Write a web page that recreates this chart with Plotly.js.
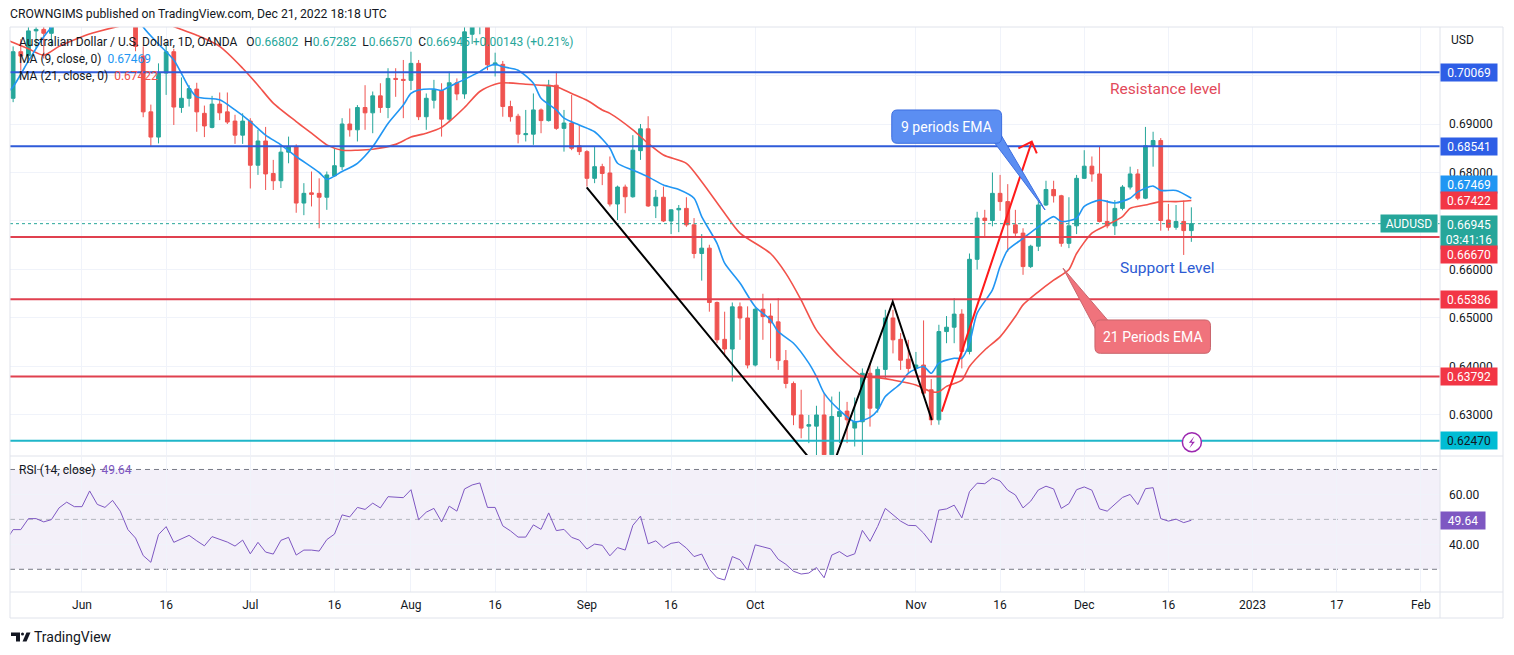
<!DOCTYPE html>
<html>
<head>
<meta charset="utf-8">
<script src="https://cdn.plot.ly/plotly-3.0.1.min.js"></script>
<style>
    html, body { margin: 0; padding: 0; background: #ffffff; }
    #chart { width: 1514px; height: 655px; }
</style>
</head>
<body>
<div id="chart"></div>
<script>
// AUDUSD 1D (OANDA), one bar per weekday starting 2022-05-18
const firstBar = '2022-05-18';

const open = [
    0.7030, 0.6953, 0.7049, 0.7041, 0.7092, 0.7095, 0.7087, 0.7120, 0.7160, 0.7175,
    0.7170, 0.7165, 0.7235, 0.7200, 0.7190, 0.7210, 0.7185, 0.7130, 0.7040, 0.6925,
    0.6873, 0.7005, 0.7049, 0.6934, 0.6953, 0.6972, 0.6922, 0.6893, 0.6941, 0.6925,
    0.6906, 0.6877, 0.6906, 0.6815, 0.6865, 0.6798, 0.6783, 0.6842, 0.6853, 0.6737,
    0.6758, 0.6757, 0.6749, 0.6793, 0.6812, 0.6900, 0.6888, 0.6934, 0.6923, 0.6958,
    0.6934, 0.6994, 0.6992, 0.6990, 0.7025, 0.6915, 0.6949, 0.6969, 0.6910, 0.6985,
    0.6962, 0.7085, 0.7102, 0.7115, 0.7022, 0.7023, 0.6936, 0.6916, 0.6878, 0.6879,
    0.6929, 0.6907, 0.6980, 0.6891, 0.6902, 0.6855, 0.6843, 0.6788, 0.6812, 0.6799,
    0.6735, 0.6770, 0.6750, 0.6845, 0.6890, 0.6731, 0.6749, 0.6700, 0.6723, 0.6726,
    0.6692, 0.6633, 0.6644, 0.6532, 0.6456, 0.6436, 0.6523, 0.6500, 0.6403, 0.6518,
    0.6504, 0.6492, 0.6412, 0.6365, 0.6300, 0.6277, 0.6277, 0.6300, 0.6218, 0.6297,
    0.6308, 0.6273, 0.6286, 0.6386, 0.6314, 0.6394, 0.6500, 0.6456, 0.6415, 0.6396,
    0.6403, 0.6352, 0.6290, 0.6472, 0.6481, 0.6508, 0.6431, 0.6621, 0.6706, 0.6701,
    0.6757, 0.6740, 0.6692, 0.6675, 0.6606, 0.6648, 0.6733, 0.6765, 0.6752, 0.6654,
    0.6690, 0.6788, 0.6813, 0.6797, 0.6699, 0.6690, 0.6726, 0.6770, 0.6797, 0.6747,
    0.6855, 0.6866, 0.6702, 0.6687, 0.6699, 0.66802
];
const high = [
    0.7068, 0.7060, 0.7075, 0.7100, 0.7126, 0.7107, 0.7130, 0.7170, 0.7190, 0.7200,
    0.7180, 0.7240, 0.7250, 0.7220, 0.7215, 0.7280, 0.7240, 0.7140, 0.7060, 0.6940,
    0.7025, 0.7069, 0.7055, 0.6996, 0.6980, 0.6985, 0.6938, 0.6958, 0.6965, 0.6965,
    0.6919, 0.6922, 0.6912, 0.6888, 0.6894, 0.6826, 0.6853, 0.6874, 0.6858, 0.6778,
    0.6802, 0.6788, 0.6802, 0.6850, 0.6912, 0.6932, 0.6939, 0.6980, 0.6967, 0.6984,
    0.7015, 0.7015, 0.7032, 0.7049, 0.7032, 0.6963, 0.6991, 0.6984, 0.7008, 0.6994,
    0.7110, 0.7137, 0.7140, 0.7125, 0.7047, 0.7030, 0.6948, 0.6921, 0.6929, 0.6963,
    0.6932, 0.6991, 0.7008, 0.6929, 0.6960, 0.6898, 0.6846, 0.6853, 0.6818, 0.6833,
    0.6773, 0.6775, 0.6877, 0.6900, 0.6916, 0.6764, 0.6771, 0.6724, 0.6733, 0.6749,
    0.6706, 0.6673, 0.6651, 0.6534, 0.6513, 0.6532, 0.6532, 0.6524, 0.6522, 0.6550,
    0.6530, 0.6541, 0.6434, 0.6369, 0.6352, 0.6300, 0.6319, 0.6345, 0.6338, 0.6348,
    0.6327, 0.6336, 0.6396, 0.6407, 0.6400, 0.6517, 0.6517, 0.6469, 0.6455, 0.6430,
    0.6495, 0.6374, 0.6486, 0.6504, 0.6541, 0.6518, 0.6633, 0.6719, 0.6723, 0.6800,
    0.6795, 0.6776, 0.6723, 0.6685, 0.6651, 0.6743, 0.6783, 0.6783, 0.6754, 0.6749,
    0.6795, 0.6846, 0.6833, 0.6853, 0.6743, 0.6743, 0.6774, 0.6812, 0.6807, 0.6894,
    0.6884, 0.6871, 0.6735, 0.6733, 0.6742, 0.67282
];
const low = [
    0.6958, 0.6945, 0.7010, 0.7034, 0.7055, 0.7035, 0.7060, 0.7100, 0.7150, 0.7135,
    0.7120, 0.7150, 0.7190, 0.7175, 0.7160, 0.7180, 0.7120, 0.7050, 0.6914, 0.6853,
    0.6860, 0.6960, 0.6898, 0.6923, 0.6936, 0.6884, 0.6873, 0.6891, 0.6908, 0.6900,
    0.6859, 0.6859, 0.6767, 0.6795, 0.6764, 0.6764, 0.6768, 0.6819, 0.6717, 0.6712,
    0.6730, 0.6685, 0.6723, 0.6791, 0.6805, 0.6874, 0.6864, 0.6888, 0.6881, 0.6923,
    0.6912, 0.6956, 0.6912, 0.6970, 0.6908, 0.6888, 0.6932, 0.6874, 0.6904, 0.6949,
    0.6952, 0.7065, 0.7085, 0.7011, 0.6998, 0.6915, 0.6905, 0.6860, 0.6864, 0.6857,
    0.6881, 0.6905, 0.6888, 0.6843, 0.6846, 0.6836, 0.6771, 0.6778, 0.6774, 0.6730,
    0.6702, 0.6716, 0.6748, 0.6826, 0.6729, 0.6706, 0.6698, 0.6673, 0.6677, 0.6688,
    0.6623, 0.6577, 0.6513, 0.6448, 0.6421, 0.6369, 0.6455, 0.6396, 0.6400, 0.6455,
    0.6417, 0.6393, 0.6355, 0.6279, 0.6252, 0.6242, 0.6170, 0.6200, 0.6205, 0.6242,
    0.6242, 0.6235, 0.6170, 0.6276, 0.6305, 0.6376, 0.6427, 0.6393, 0.6386, 0.6386,
    0.6341, 0.6279, 0.6280, 0.6448, 0.6448, 0.6396, 0.6425, 0.6600, 0.6667, 0.6689,
    0.6721, 0.6637, 0.6665, 0.6589, 0.6603, 0.6638, 0.6731, 0.6738, 0.6647, 0.6644,
    0.6673, 0.6787, 0.6781, 0.6697, 0.6685, 0.6671, 0.6722, 0.6765, 0.6743, 0.6745,
    0.6812, 0.6680, 0.6680, 0.6682, 0.6630, 0.66570
];
const close = [
    0.6962, 0.7049, 0.7040, 0.7092, 0.7095, 0.7087, 0.7120, 0.7160, 0.7175, 0.7170,
    0.7165, 0.7235, 0.7200, 0.7190, 0.7210, 0.7185, 0.7130, 0.7060, 0.6925, 0.6873,
    0.7005, 0.7049, 0.6935, 0.6953, 0.6973, 0.6925, 0.6896, 0.6941, 0.6923, 0.6904,
    0.6877, 0.6906, 0.6815, 0.6865, 0.6797, 0.6783, 0.6842, 0.6853, 0.6737, 0.6757,
    0.6755, 0.6749, 0.6795, 0.6814, 0.6900, 0.6888, 0.6934, 0.6923, 0.6958, 0.6934,
    0.6994, 0.6992, 0.6990, 0.7025, 0.6915, 0.6953, 0.6970, 0.6910, 0.6985, 0.6962,
    0.7090, 0.7102, 0.7115, 0.7022, 0.7026, 0.6936, 0.6915, 0.6879, 0.6880, 0.6929,
    0.6907, 0.6980, 0.6891, 0.6902, 0.6850, 0.6843, 0.6788, 0.6812, 0.6798, 0.6735,
    0.6770, 0.6750, 0.6846, 0.6890, 0.6731, 0.6749, 0.6700, 0.6723, 0.6726, 0.6692,
    0.6633, 0.6644, 0.6532, 0.6455, 0.6436, 0.6523, 0.6500, 0.6403, 0.6518, 0.6503,
    0.6490, 0.6412, 0.6365, 0.6300, 0.6273, 0.6280, 0.6300, 0.6218, 0.6297, 0.6307,
    0.6290, 0.6286, 0.6386, 0.6314, 0.6394, 0.6500, 0.6455, 0.6413, 0.6396, 0.6403,
    0.6345, 0.6290, 0.6472, 0.6481, 0.6508, 0.6431, 0.6621, 0.6706, 0.6701, 0.6757,
    0.6740, 0.6692, 0.6675, 0.6606, 0.6648, 0.6733, 0.6765, 0.6752, 0.6654, 0.6690,
    0.6788, 0.6813, 0.6797, 0.6699, 0.6690, 0.6726, 0.6770, 0.6797, 0.6747, 0.6855,
    0.6866, 0.6701, 0.6687, 0.6699, 0.66802, 0.66945
];

const rsi = [
    41.2, 45.9, 45.9, 50.3, 50.3, 49.0, 49.9, 54.6, 56.9, 55.1,
    55.1, 61.4, 56.0, 54.8, 57.6, 53.3, 45.9, 42.5, 35.5, 32.8,
    43.9, 47.1, 40.8, 42.3, 43.6, 41.4, 39.4, 43.1, 42.1, 40.9,
    39.3, 41.7, 36.2, 40.8, 36.9, 36.1, 41.6, 42.8, 35.7, 37.7,
    37.7, 37.3, 41.9, 44.1, 51.8, 51.0, 54.8, 54.0, 56.5, 54.6,
    59.1, 58.8, 58.7, 61.9, 49.9, 52.9, 54.4, 49.0, 55.3, 53.3,
    62.2, 63.8, 64.6, 54.8, 54.8, 47.4, 45.4, 42.9, 42.9, 47.8,
    46.0, 52.6, 45.5, 46.0, 42.8, 41.7, 38.1, 40.1, 39.6, 35.4,
    38.7, 37.7, 47.6, 51.3, 40.2, 41.4, 38.6, 40.4, 40.9, 38.5,
    35.1, 36.1, 30.0, 26.6, 25.7, 35.1, 33.8, 29.7, 39.8, 39.0,
    38.2, 34.0, 32.0, 29.2, 28.1, 28.5, 30.7, 26.6, 35.7, 37.1,
    35.1, 36.2, 45.6, 41.2, 47.2, 54.4, 52.0, 49.3, 47.6, 47.5,
    44.5, 40.6, 53.7, 54.2, 55.7, 50.6, 61.1, 64.5, 64.3, 66.6,
    65.4, 61.7, 59.8, 54.6, 57.3, 61.8, 63.3, 62.2, 54.4, 56.3,
    61.9, 63.0, 61.7, 54.2, 53.3, 56.0, 58.8, 60.0, 55.9, 62.3,
    62.7, 50.3, 49.3, 50.1, 48.7, 49.64
];

// moving averages, sampled along the drawn lines (bar number -> value)
const ma9Bars = [0, 1, 3, 5, 7, 10, 13, 16, 18, 20, 22, 24, 25, 28, 30, 32, 34, 36, 38, 41,
    42, 44, 46, 48, 50, 52, 53, 54, 56, 57, 58, 60, 62, 63, 64, 65, 67, 69, 70, 72,
    73, 75, 77, 79, 80, 82, 84, 86, 88, 90, 91, 93, 94, 96, 98, 100, 101, 103, 105, 106,
    107, 109, 111, 113, 114, 115, 117, 118, 120, 121, 122, 124, 125, 126, 127, 129, 130, 131, 133, 135,
    137, 138, 140, 141, 143, 145, 147, 148, 150, 151, 153, 155];
const ma9Vals = [0.6962, 0.6977, 0.7030, 0.7080, 0.7115, 0.7150, 0.7175, 0.7160, 0.7100, 0.7065,
    0.7032, 0.6975, 0.6956, 0.6950, 0.6929, 0.6905, 0.6877, 0.6857, 0.6833, 0.6800,
    0.6786, 0.6802, 0.6819, 0.6853, 0.6901, 0.6939, 0.6963, 0.6970, 0.6972, 0.6969,
    0.6977, 0.6992, 0.7008, 0.7018, 0.7023, 0.7018, 0.7011, 0.6984, 0.6953, 0.6929,
    0.6912, 0.6898, 0.6884, 0.6850, 0.6819, 0.6805, 0.6791, 0.6774, 0.6765, 0.6747,
    0.6709, 0.6654, 0.6613, 0.6572, 0.6523, 0.6496, 0.6472, 0.6448, 0.6407, 0.6379,
    0.6345, 0.6310, 0.6286, 0.6295, 0.6310, 0.6338, 0.6365, 0.6386, 0.6400, 0.6386,
    0.6407, 0.6417, 0.6417, 0.6448, 0.6510, 0.6558, 0.6606, 0.6640, 0.6664, 0.6688,
    0.6709, 0.6699, 0.6706, 0.6730, 0.6743, 0.6737, 0.6747, 0.6760, 0.6772, 0.6763,
    0.6763, 0.67469];
const ma21Bars = [0, 1, 3, 5, 7, 10, 12, 15, 18, 21, 23, 25, 28, 31, 33, 35, 38, 40, 42, 44,
    46, 48, 51, 53, 55, 57, 58, 60, 62, 64, 65, 68, 70, 72, 74, 76, 78, 79, 82, 84,
    86, 89, 91, 94, 96, 100, 102, 104, 106, 109, 112, 114, 116, 119, 121, 122, 123, 125, 126, 128,
    130, 132, 133, 135, 137, 139, 140, 142, 144, 146, 147, 149, 151, 153, 155];
const ma21Vals = [0.7075, 0.7068, 0.7055, 0.7042, 0.7060, 0.7080, 0.7090, 0.7102, 0.7108, 0.7106,
    0.7095, 0.7083, 0.7060, 0.7015, 0.6980, 0.6943, 0.6905, 0.6881, 0.6857, 0.6846,
    0.6846, 0.6848, 0.6858, 0.6873, 0.6881, 0.6893, 0.6905, 0.6934, 0.6967, 0.6982,
    0.6985, 0.6982, 0.6980, 0.6977, 0.6963, 0.6949, 0.6929, 0.6922, 0.6888, 0.6860,
    0.6836, 0.6819, 0.6781, 0.6716, 0.6675, 0.6633, 0.6592, 0.6537, 0.6475, 0.6420,
    0.6380, 0.6377, 0.6372, 0.6362, 0.6348, 0.6348, 0.6359, 0.6372, 0.6400, 0.6434,
    0.6461, 0.6503, 0.6527, 0.6554, 0.6578, 0.6600, 0.6633, 0.6675, 0.6692, 0.6709,
    0.6726, 0.6733, 0.6740, 0.6740, 0.67422];

// horizontal levels from the drawing
const blueLevels = [0.70069, 0.68541];
const redLevels = [0.66670, 0.65386, 0.63792];
const cyanLevel = 0.62470;
const lastPrice = 0.66945;

const priceTicks = [0.63, 0.64, 0.65, 0.66, 0.67, 0.68, 0.69, 0.70, 0.71];
const priceTickText = ['0.63000', '0.64000', '0.65000', '0.66000', '', '0.68000', '0.69000', '', ''];
const timeTicks = ['2022-06-01', '2022-06-16', '2022-07-01', '2022-07-18', '2022-08-01', '2022-08-16',
    '2022-09-01', '2022-09-16', '2022-10-03', '2022-11-01', '2022-11-16', '2022-12-01',
    '2022-12-16', '2023-01-02', '2023-01-17', '2023-02-01'];
const timeTickText = ['Jun', '16', 'Jul', '16', 'Aug', '16', 'Sep', '16', 'Oct', 'Nov', '16', 'Dec',
    '16', '2023', '17', 'Feb'];

// weekday calendar
function weekdays(start, n) {
    const out = [];
    const d = new Date(start + 'T00:00:00Z');
    while (out.length < n) {
        const wd = d.getUTCDay();
        if (wd !== 0 && wd !== 6) out.push(d.toISOString().slice(0, 10));
        d.setUTCDate(d.getUTCDate() + 1);
    }
    return out;
}
const calendar = weekdays(firstBar, 200);
const dates = calendar.slice(0, close.length);

// fractional bar number -> date-time on the axis
function at(bar) {
    const b = Math.floor(bar);
    const mins = Math.round((bar - b) * 1440);
    const hh = String(Math.floor(mins / 60)).padStart(2, '0');
    const mm = String(mins % 60).padStart(2, '0');
    return calendar[b] + ' ' + hh + ':' + mm;
}
const P = bar => at(bar).replace(' ', '_');

// page pixels -> paper fractions (plot area is x 10..1440, y 27..592)
const fx = px => (px - 10) / 1430;
const fy = py => (592 - py) / 565;

function roundRect(b0, b1, p0, p1) {
    const rb = 0.7, rp = 0.0012;
    return `M${P(b0 + rb)},${p1} L${P(b1 - rb)},${p1} Q${P(b1)},${p1} ${P(b1)},${p1 - rp} ` +
        `L${P(b1)},${p0 + rp} Q${P(b1)},${p0} ${P(b1 - rb)},${p0} L${P(b0 + rb)},${p0} ` +
        `Q${P(b0)},${p0} ${P(b0)},${p0 + rp} L${P(b0)},${p1 - rp} Q${P(b0)},${p1} ${P(b0 + rb)},${p1} Z`;
}
function poly(pts) {
    return pts.map((p, i) => (i ? 'L' : 'M') + P(p[0]) + ',' + p[1]).join(' ') + ' Z';
}

const UP = '#26a69a', DOWN = '#ef5350';
const BLUE_LINE = '#2f5bd9', RED_LINE = '#e0404f', CYAN_LINE = '#1fb6c9';
const GRID = '#f0f3fa', FRAME = '#e0e3eb', TXT = '#131722';

const traces = [
    {
        type: 'candlestick', x: dates, open: open, high: high, low: low, close: close,
        xaxis: 'x', yaxis: 'y', whiskerwidth: 0, hoverinfo: 'skip',
        increasing: { line: { color: UP, width: 1 }, fillcolor: UP },
        decreasing: { line: { color: DOWN, width: 1 }, fillcolor: DOWN }
    },
    {
        type: 'scatter', mode: 'lines', x: ma21Bars.map(b => dates[b]), y: ma21Vals,
        xaxis: 'x', yaxis: 'y', hoverinfo: 'skip',
        line: { color: '#f2524a', width: 1.6, shape: 'spline', smoothing: 0.7 }
    },
    {
        type: 'scatter', mode: 'lines', x: ma9Bars.map(b => dates[b]), y: ma9Vals,
        xaxis: 'x', yaxis: 'y', hoverinfo: 'skip',
        line: { color: '#2196f3', width: 1.6, shape: 'spline', smoothing: 0.7 }
    },
    {
        type: 'scatter', mode: 'lines', x: dates, y: rsi,
        xaxis: 'x', yaxis: 'y2', hoverinfo: 'skip',
        line: { color: '#7e57c2', width: 1 }
    }
];

const shapes = [];
const hline = (y, color, width, dash, yref, layer) => shapes.push({
    type: 'line', xref: 'paper', x0: 0, x1: 1, yref: yref || 'y', y0: y, y1: y,
    layer: layer || 'above', line: { color: color, width: width, dash: dash || 'solid' }
});

// RSI band and guide lines
shapes.push({ type: 'rect', xref: 'paper', x0: 0, x1: 1, yref: 'y2', y0: 30, y1: 70,
    fillcolor: 'rgba(126,87,194,0.09)', line: { width: 0 }, layer: 'below' });
hline(70, '#787b86', 1, '5px,4px', 'y2', 'below');
hline(50, '#b2b5be', 1, '5px,4px', 'y2', 'below');
hline(30, '#787b86', 1, '5px,4px', 'y2', 'below');

// levels
hline(lastPrice, UP, 1, 'dot');
blueLevels.forEach(v => hline(v, BLUE_LINE, 2));
redLevels.forEach(v => hline(v, RED_LINE, 2));
hline(cyanLevel, CYAN_LINE, 2);

// black swing lines
shapes.push({ type: 'path', xref: 'x', yref: 'y', layer: 'above',
    path: [[75.97, 0.67695], [107.45, 0.61652], [115.97, 0.65336], [121.07, 0.62897]]
        .map((p, i) => (i ? 'L' : 'M') + P(p[0]) + ',' + p[1]).join(' '),
    line: { color: '#000000', width: 2 } });
// red arrow
shapes.push({ type: 'path', xref: 'x', yref: 'y', layer: 'above',
    path: `M${P(122.38)},0.63068 L${P(134.14)},0.68635 M${P(132.39)},0.68499 L${P(134.14)},0.68635 L${P(134.80)},0.68396`,
    line: { color: '#ff1a1a', width: 2 } });

// callouts
shapes.push({ type: 'path', xref: 'x', yref: 'y', layer: 'above',
    path: poly([[129.1, 0.68650], [130.1, 0.68780], [135.88, 0.67227]]),
    fillcolor: '#5b8ef2', line: { color: '#3c6ee0', width: 1 } });
shapes.push({ type: 'path', xref: 'x', yref: 'y', layer: 'above',
    path: roundRect(115.84, 130.2, 0.68602, 0.69289),
    fillcolor: '#5b8ef2', line: { color: '#3c6ee0', width: 1 } });
shapes.push({ type: 'path', xref: 'x', yref: 'y', layer: 'above',
    path: poly([[142.55, 0.64750], [144.2, 0.64930], [138.24, 0.66025]]),
    fillcolor: '#f0737c', line: { color: '#c9646b', width: 1 } });
shapes.push({ type: 'path', xref: 'x', yref: 'y', layer: 'above',
    path: roundRect(142.4, 157.5, 0.64272, 0.64959),
    fillcolor: '#f0737c', line: { color: '#c9646b', width: 1 } });

// replay icon on the cyan line
shapes.push({ type: 'circle', xref: 'x', yref: 'y', xsizemode: 'pixel', ysizemode: 'pixel',
    xanchor: at(155.07), yanchor: 0.62440, x0: -9.5, x1: 9.5, y0: -9.5, y1: 9.5,
    fillcolor: '#ffffff', line: { color: '#9c27b0', width: 1.5 }, layer: 'above' });
shapes.push({ type: 'path', xref: 'x', yref: 'y', xsizemode: 'pixel', ysizemode: 'pixel',
    xanchor: at(155.07), yanchor: 0.62440,
    path: 'M2.5,6 L-3,-0.5 L0.3,-0.5 L-2.5,-6 L3,0.5 L-0.3,0.5 Z',
    fillcolor: '#9c27b0', line: { width: 0 }, layer: 'above' });

// frame
const frameLine = (x0, y0, x1, y1) => shapes.push({ type: 'line', xref: 'paper', yref: 'paper',
    x0: fx(x0), y0: fy(y0), x1: fx(x1), y1: fy(y1), line: { color: FRAME, width: 1 } });
frameLine(10, 27, 1503, 27);
frameLine(10, 27, 10, 618);
frameLine(1503, 27, 1503, 618);
frameLine(10, 618, 1503, 618);
frameLine(1440, 27, 1440, 618);
frameLine(10, 456, 1503, 456);
frameLine(10, 592, 1503, 592);

// TradingView logo mark
const logo = [
    [[11, 632.5], [20, 632.5], [20, 641.5], [16, 641.5], [16, 636], [11, 636]],
    [[22.5, 641.5], [26.5, 632.5], [30.5, 632.5], [26.5, 641.5]]
];
logo.forEach(pts => shapes.push({ type: 'path', xref: 'paper', yref: 'paper',
    path: pts.map((p, i) => (i ? 'L' : 'M') + fx(p[0]) + ',' + fy(p[1])).join(' ') + ' Z',
    fillcolor: TXT, line: { width: 0 } }));
shapes.push({ type: 'circle', xref: 'paper', yref: 'paper',
    x0: fx(21), x1: fx(24), y0: fy(632.5), y1: fy(635.5), fillcolor: TXT, line: { width: 0 } });

const annotations = [];
const text = (t, x, y, opts) => annotations.push(Object.assign({
    text: t, xref: 'paper', yref: 'paper', x: fx(x), y: fy(y), xanchor: 'left', yanchor: 'middle',
    showarrow: false, font: { size: 12, color: TXT }
}, opts || {}));

const NB = '\u00a0';
const teal = s => `<span style="color:${UP}">${s}</span>`;
text('CROWNGIMS published on TradingView.com, Dec 21, 2022 18:18 UTC', 8, 14, { font: { size: 12.2, color: TXT } });
text(`Australian Dollar / U.S. Dollar, 1D, OANDA${NB}${NB}${NB}O${teal('0.66802')}${NB}${NB}H${teal('0.67282')}` +
    `${NB}${NB}L${teal('0.66570')}${NB}${NB}C${teal('0.66945')}${NB}${teal('+0.00143 (+0.21%)')}`, 17, 42);
text(`MA (9, close, 0)${NB}${NB}<span style="color:#2196f3">0.67469</span>`, 17, 59);
text(`MA (21, close, 0)${NB}${NB}<span style="color:#f2524a">0.67422</span>`, 17, 76);
text(`RSI (14, close)${NB}${NB}<span style="color:#7e57c2">49.64</span>`, 17, 470);
text('USD', 1449, 40);
text('TradingView', 32, 637, { font: { size: 14, color: TXT } });

// price tags on the right scale
const tag = (label, y, bg, opts) => annotations.push(Object.assign({
    text: label, xref: 'paper', yref: 'y', x: 1, y: y, xanchor: 'left', yanchor: 'middle',
    showarrow: false, bgcolor: bg, borderpad: 2, width: 52, height: 13, align: 'center',
    font: { size: 12, color: '#ffffff' }
}, opts || {}));
tag('0.70069', blueLevels[0], '#2e5ee6');
tag('0.68541', blueLevels[1], '#2e5ee6');
tag('0.67469', ma9Vals[ma9Vals.length - 1], '#2196f3', { yshift: 14 });
tag('0.67422', ma21Vals[ma21Vals.length - 1], '#f23645');
tag('0.66945<br>03:41:16', lastPrice, UP, { yanchor: 'top', yshift: 9, height: 29 });
tag('AUDUSD', lastPrice, UP, { xanchor: 'right', xshift: -2 });
tag('0.66670', redLevels[0], '#f23645', { yshift: -17 });
tag('0.65386', redLevels[1], '#f23645');
tag('0.63792', redLevels[2], '#f23645');
tag('0.62470', cyanLevel, '#00bcd4', { font: { size: 12, color: TXT } });
tag('49.64', rsi[rsi.length - 1], '#7e57c2', { yref: 'y2', width: 40 });

// drawing labels
const onChart = (t, bar, y, color, size) => annotations.push({
    text: t, xref: 'x', yref: 'y', x: at(bar), y: y, showarrow: false,
    xanchor: 'center', yanchor: 'middle', font: { size: size, color: color }
});
onChart('9 periods EMA', 123.03, 0.68944, '#ffffff', 14);
onChart('21 Periods EMA', 150.0, 0.64608, '#ffffff', 14);
onChart('Resistance level', 151.6, 0.69722, '#e2495a', 15.5);
onChart('Support Level', 151.8, 0.66031, '#2d5bd3', 15.5);

const layout = {
    width: 1514, height: 655,
    margin: { l: 10, r: 74, t: 27, b: 63 },
    paper_bgcolor: '#ffffff', plot_bgcolor: '#ffffff',
    showlegend: false, hovermode: false,
    font: { family: 'Roboto, "DejaVu Sans", sans-serif', size: 12, color: TXT },
    xaxis: {
        type: 'date', anchor: 'y2', range: [at(0.59), at(187.5)],
        rangebreaks: [{ bounds: ['sat', 'mon'] }],
        rangeslider: { visible: false },
        tickmode: 'array', tickvals: timeTicks, ticktext: timeTickText,
        showgrid: true, gridcolor: GRID, zeroline: false, showline: false, ticks: '',
        ticklabelstandoff: 4, tickfont: { size: 12, color: TXT }, fixedrange: true
    },
    yaxis: {
        domain: [fy(455), 1], range: [0.62175, 0.7100], side: 'right', anchor: 'x',
        tickmode: 'array', tickvals: priceTicks, ticktext: priceTickText,
        showgrid: true, gridcolor: GRID, zeroline: false, showline: false, ticks: '',
        ticklabelstandoff: 8, tickfont: { size: 12, color: TXT }, fixedrange: true
    },
    yaxis2: {
        domain: [0, fy(457)], range: [20.9, 75], side: 'right', anchor: 'x',
        tickmode: 'array', tickvals: [40, 60], ticktext: ['40.00', '60.00'],
        showgrid: true, gridcolor: GRID, zeroline: false, showline: false, ticks: '',
        ticklabelstandoff: 8, tickfont: { size: 12, color: TXT }, fixedrange: true
    },
    shapes: shapes,
    annotations: annotations
};

Plotly.newPlot('chart', traces, layout, { staticPlot: true, displayModeBar: false });
</script>
</body>
</html>
